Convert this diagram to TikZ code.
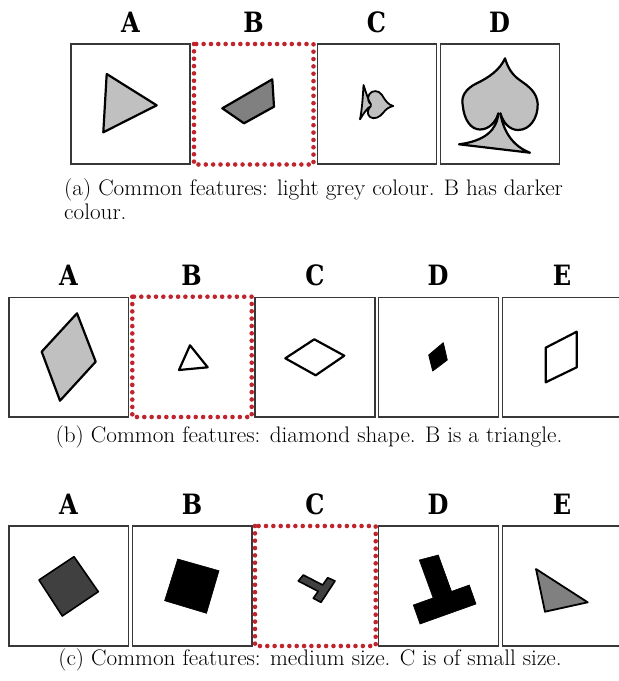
\documentclass[tikz,border=0pt]{standalone}
\usepackage{fontspec}
\newfontfamily\lblfont{DejaVu Serif}
\begin{document}
\begin{tikzpicture}[x=1pt,y=-1pt,
  panel/.style={draw=black!78,line width=1.2pt},
  reddots/.style={draw=dotred,line width=4.6pt,line cap=round,dash pattern=on 0pt off 7.35pt},
  lbl/.style={inner sep=0pt,font=\lblfont\bfseries\fontsize{28}{30}\selectfont,xscale=0.86},
  captxt/.style={inner sep=0pt,anchor=mid,xscale=1.03,font=\fontsize{22.5}{26}\selectfont\addfontfeature{FakeBold=0.35}},
  shp/.style={draw=black,line width=2.2pt,line join=round},
  lgrey/.style={fill=sgl},
  mgrey/.style={fill=sgm},
  dgrey/.style={fill=sgd}]
\definecolor{dotred}{RGB}{192,36,44}
\definecolor{sgl}{RGB}{192,192,192}
\definecolor{sgm}{RGB}{128,128,128}
\definecolor{sgd}{RGB}{64,64,64}
\useasboundingbox (0,0) rectangle (619,681);
\clip (0,0) rectangle (619,681);

% ================= Row (a)
\node[lbl] (a-A) at (130.5,22.5) {A};
\node[lbl] (a-B) at (253.5,22.5) {B};
\node[lbl] (a-C) at (376.5,22.5) {C};
\node[lbl] (a-D) at (499.5,22.5) {D};
\draw[panel] (71,44) rectangle (190,164);
\draw[reddots] (194,44) rectangle (313.5,164.5);
\draw[panel] (317.3,44) rectangle (436.7,164);
\draw[panel] (440.3,44) rectangle (559.5,164);
% A triangle
\draw[shp,lgrey] (106.7,74) -- (156.7,105.3) -- (103.3,132.3) -- cycle;
% B quadrilateral
\draw[shp,mgrey] (222.3,108.3) -- (272.3,79.3) -- (274,106.7) -- (244,123.3) -- cycle;
% C small spade pointing right
\draw[shp,lgrey,line width=1.8pt] (393.3,106) .. controls (388,105) and (385,100) .. (382,95)
  .. controls (379,90) and (372,90) .. (369.5,94)
  .. controls (367,98) and (368,102) .. (371,104.5)
  .. controls (368,100) and (366,92) .. (363.5,85)
  .. controls (363,95) and (362,110) .. (360,119.3)
  .. controls (364,113) and (367,108) .. (371,106)
  .. controls (367.5,109) and (366.5,114) .. (370,117)
  .. controls (374,120) and (380,117) .. (383,113)
  .. controls (386,109) and (389,107) .. (393.3,106) -- cycle;
% D large spade
\draw[shp,lgrey] (505,58.3) .. controls (500,70) and (488,78) .. (476.7,83.3)
  .. controls (465,89) and (461,97) .. (462.7,105)
  .. controls (464,120) and (471,129.5) .. (480,129.5)
  .. controls (489,129.5) and (496,122) .. (498.3,113.3)
  .. controls (497,130) and (485,141) .. (459,144.3)
  -- (530,152.7)
  .. controls (512,146) and (503,130) .. (500.5,113.3)
  .. controls (503,123) and (510,130) .. (518,130)
  .. controls (530,130) and (538,118) .. (537.7,104)
  .. controls (537,92) and (528,86) .. (521,81)
  .. controls (512,75) and (508,68) .. (505,58.3) -- cycle;
\node[captxt,anchor=base west] (a-cap1) at (64,195) {(a) Common features: light grey colour. B has darker};
\node[captxt,anchor=base west] (a-cap2) at (64,219) {colour.};

% ================= Row (b)
\node[lbl] (b-A) at (68.5,275.5) {A};
\node[lbl] (b-B) at (191.5,275.5) {B};
\node[lbl] (b-C) at (315,275.5) {C};
\node[lbl] (b-D) at (438,275.5) {D};
\node[lbl] (b-E) at (562,275.5) {E};
\draw[panel] (9,297.3) rectangle (128.3,417);
\draw[reddots] (132.3,296.7) rectangle (251.7,417);
\draw[panel] (255,297.3) rectangle (375,417);
\draw[panel] (378.3,297.3) rectangle (498.3,417);
\draw[panel] (502.3,297.3) rectangle (622,417);
\draw[shp,lgrey] (77,313.3) -- (95.7,361.7) -- (60,400.7) -- (41.7,351.7) -- cycle;
\draw[shp] (190,345.3) -- (207.7,367.3) -- (179,370) -- cycle;
\draw[shp] (314.3,339.3) -- (344.3,355.7) -- (315.7,375.3) -- (285.3,358.3) -- cycle;
\draw[fill=black,draw=black,line width=0.8pt,line join=round] (443.3,342.7) -- (447.3,360) -- (432.7,371) -- (428.7,355) -- cycle;
\draw[shp] (545.7,347.7) -- (576.7,331.7) -- (576.7,367.3) -- (545.7,382.3) -- cycle;
\node[captxt] (b-cap) at (309,440) {(b) Common features: diamond shape. B is a triangle.};

% ================= Row (c)
\node[lbl] (c-A) at (68.5,504) {A};
\node[lbl] (c-B) at (192,504) {B};
\node[lbl] (c-C) at (315,504) {C};
\node[lbl] (c-D) at (438,504) {D};
\node[lbl] (c-E) at (562,504) {E};
\draw[panel] (9,526) rectangle (128.3,646);
\draw[panel] (132.3,526) rectangle (252,646);
\draw[reddots] (255,526) rectangle (375.7,646);
\draw[panel] (378.3,526) rectangle (498.3,646);
\draw[panel] (502.3,526) rectangle (622,646);
\draw[shp,dgrey,line width=1.6pt] (74,556.7) -- (98.3,591.7) -- (62.3,616) -- (39,580) -- cycle;
\draw[fill=black,draw=black,line width=0.6pt] (177.7,559) -- (219,570.7) -- (206.5,613.3) -- (164.6,600.7) -- cycle;
\draw[shp,dgrey,line width=1.6pt] (303.3,575) -- (322.7,585) -- (327.7,577.7) -- (335,581) -- (321,602.3) -- (313.3,598.3) -- (318.2,591.3) -- (298.3,581) -- cycle;
\draw[fill=black,draw=black,line width=0.6pt] (419.3,560) -- (438.3,555) -- (451.5,591.4) -- (469.3,585) -- (476,604) -- (420,624) -- (413.3,605) -- (433.1,597.9) -- cycle;
\draw[shp,mgrey,line width=1.8pt] (536,569) -- (587.7,602.3) -- (545,611.7) -- cycle;
\node[captxt] (c-cap) at (310,663) {(c) Common features: medium size. C is of small size.};
\end{tikzpicture}
\end{document}
